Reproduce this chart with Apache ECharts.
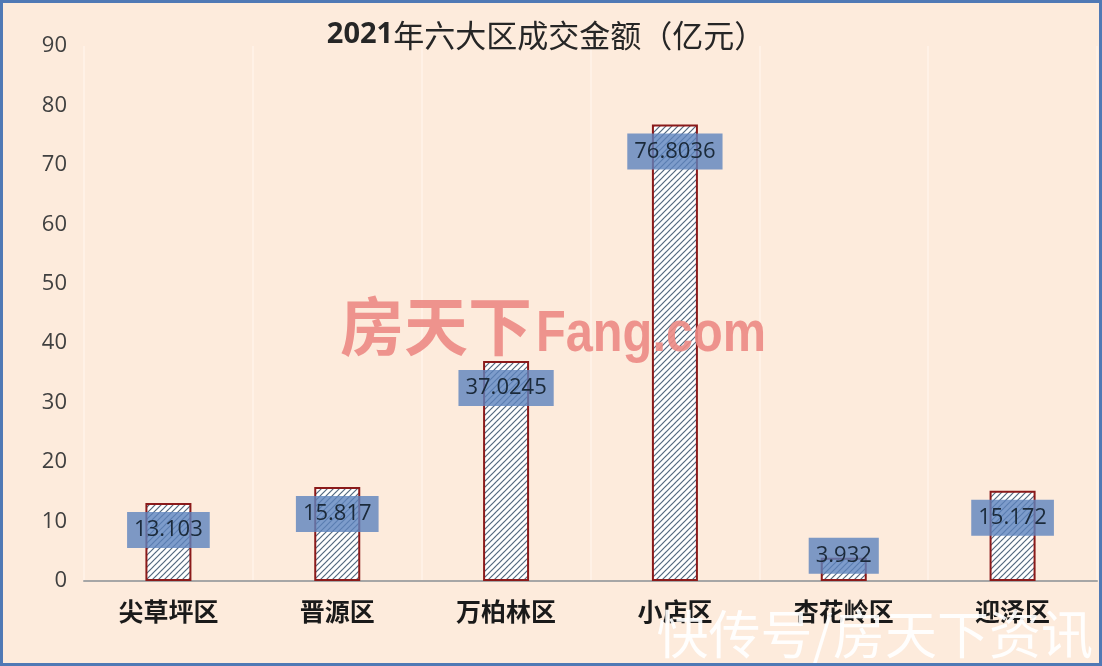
<!DOCTYPE html>
<html>
<head>
<meta charset="utf-8">
<script src="https://cdn.jsdelivr.net/npm/echarts@6/dist/echarts.min.js"></script>
<style>
html,body{margin:0;padding:0;background:#FDEBDC;}
#c{width:1102px;height:666px;}
</style>
</head>
<body>
<div id="c"></div>
<script>
const categories = ['尖草坪区', '晋源区', '万柏林区', '小店区', '杏花岭区', '迎泽区'];
const values = [13.103, 15.817, 37.0245, 76.8036, 3.932, 15.172];
const yTicks = [0, 10, 20, 30, 40, 50, 60, 70, 80, 90];
const titleYear = '2021';
const titleRest = '年六大区成交金额（亿元）';

// stripe pattern
const pc = document.createElement('canvas');
pc.width = 6; pc.height = 6;
const g = pc.getContext('2d');
g.fillStyle = '#FFFFFF';
g.fillRect(0, 0, 6, 6);
g.strokeStyle = '#52687E';
g.lineWidth = 1.2;
for (let k = -1; k <= 1; k++) {
  g.beginPath();
  g.moveTo(-1 + k * 6, 7);
  g.lineTo(7 + k * 6, -1);
  g.stroke();
}

const chart = echarts.init(document.getElementById('c'), null, {renderer: 'canvas'});
const barData = values.map((v, i) => {
  const d = {value: v};
  if (v < 8) d.label = {offset: [0, -25]};
  return d;
});
chart.setOption({
  backgroundColor: '#FDEBDC',
  animation: false,
  grid: {left: 84, right: 5, top: 46, bottom: 85},
  xAxis: {
    type: 'category',
    data: categories,
    axisLine: {lineStyle: {color: '#A6A6A6', width: 2}},
    axisTick: {show: false},
    axisLabel: {fontSize: 25, fontWeight: 'bold', color: '#1A1A1A', margin: 18,
      fontFamily: 'Noto Sans CJK SC'},
    splitLine: {show: true, lineStyle: {color: '#FFF3EA', width: 1.5}}
  },
  yAxis: {
    type: 'value',
    min: yTicks[0], max: yTicks[yTicks.length - 1], interval: 10,
    axisLine: {show: false}, axisTick: {show: false},
    splitLine: {show: false},
    axisLabel: {fontSize: 22, color: '#404040', margin: 17, fontFamily: 'Open Sans'}
  },
  series: [{
    type: 'bar',
    data: barData,
    barWidth: 46,
    itemStyle: {color: {image: pc, repetition: 'repeat'}, borderColor: '#8B1A1A', borderWidth: 2},
    label: {
      show: true,
      position: 'insideTop',
      offset: [0, 4],
      fontSize: 22,
      fontFamily: 'Open Sans',
      color: '#1B2A3A',
      backgroundColor: 'rgba(92,131,190,0.8)',
      padding: [7, 7],
      lineHeight: 22
    }
  }],
  graphic: [
    {type: 'text', z: 100, style: {x: 546, y: 35, text: '{b|' + titleYear + '}{n|' + titleRest + '}',
      textAlign: 'center', textVerticalAlign: 'middle',
      rich: {
        b: {fontSize: 29, fontWeight: 'bold', fontFamily: 'Open Sans', fill: '#262626'},
        n: {fontSize: 31, fontFamily: 'Noto Sans CJK SC', fill: '#262626'}
      }}},
    {type: 'text', z: 100, style: {x: 340, y: 326, text: '房天下', textAlign: 'left', textVerticalAlign: 'middle',
      font: 'bold 64px "Noto Sans CJK SC"', fill: '#EC8A84', opacity: 0.9}},
    {type: 'text', z: 100, x: 536, y: 335, scaleX: 0.84, style: {x: 0, y: 0, text: 'Fang.com', textAlign: 'left', textVerticalAlign: 'middle',
      font: 'bold 58px "Liberation Sans"', fill: '#EC8A84', opacity: 0.9}},
    {type: 'text', z: 100, style: {x: 1093, y: 634, text: '快传号/房天下资讯', textAlign: 'right', textVerticalAlign: 'middle',
      font: '52px "Noto Sans CJK SC"', fill: '#FFFFFF', opacity: 0.92}},
    {type: 'rect', z: 101, shape: {x: 1.5, y: 1.5, width: 1099, height: 663}, style: {fill: 'none', stroke: '#5079B5', lineWidth: 3}}
  ]
});
</script>
</body>
</html>
